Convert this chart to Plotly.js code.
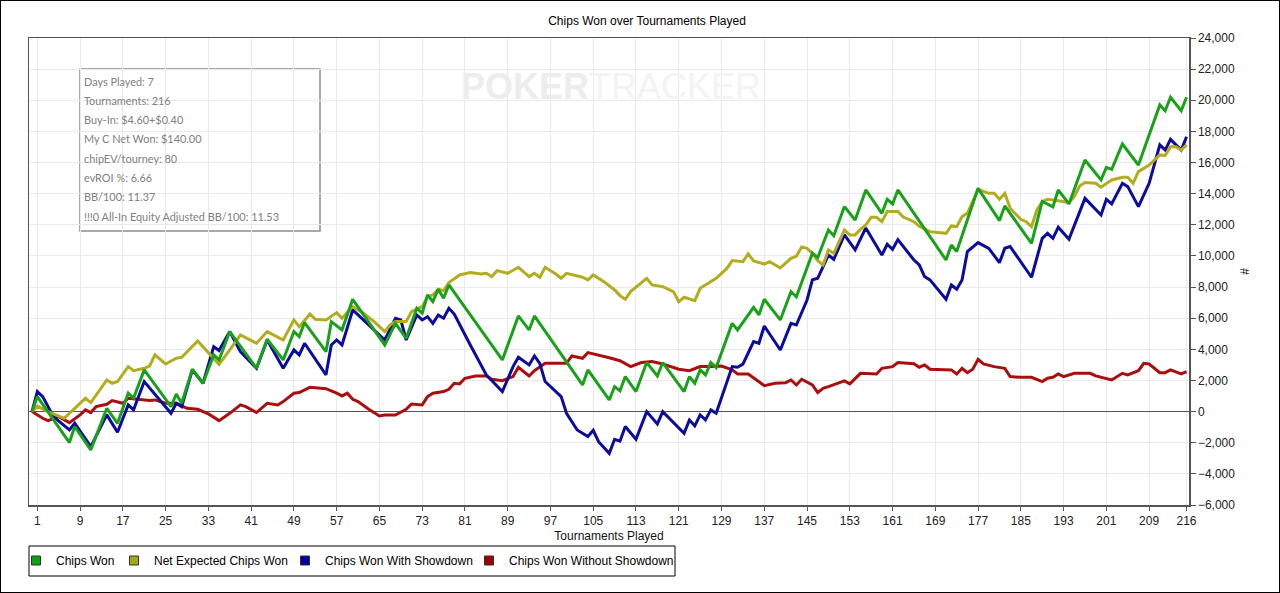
<!DOCTYPE html>
<html>
<head>
<meta charset="utf-8">
<script src="https://cdn.plot.ly/plotly-3.0.1.min.js"></script>
<style>
  html, body { margin: 0; padding: 0; background: #fff; }
  #wrap { position: relative; width: 1280px; height: 593px; }
  #chart { width: 1280px; height: 593px; }
  #frame { position: absolute; left: 0; top: 0; width: 1280px; height: 593px; box-sizing: border-box; border: 1px solid #000; pointer-events: none; }
</style>
</head>
<body>
<div id="wrap"><div id="chart"></div><div id="frame"></div></div>
<script>
// ---- Data (tournament number, cumulative chips) ----
const xTickVals = [1,9,17,25,33,41,49,57,65,73,81,89,97,105,113,121,129,137,145,153,161,169,177,185,193,201,209,216];

const chipsWonT = [0,1,7,8,11,14,16,18,19,21,26,27,28,30,32,34,35,37,42,44,47,49,50,51,55,56,58,60,66,68,70,72,73,74,75,76,77,78,88,91,93,94,103,104,108,109,110,111,113,115,117,118,122,123,124,125,126,127,128,131,132,135,136,137,140,142,143,146,147,149,150,152,154,156,159,160,161,162,171,172,173,177,181,182,187,189,191,192,194,197,200,201,202,204,207,211,212,213,215,216];
const chipsWonV = [0,960,-1990,-960,-2460,210,-750,1180,860,2680,320,1130,535,2720,1820,3640,3320,5140,2780,4650,3320,5140,4820,5720,3850,5780,5245,7215,4280,5670,4710,6640,6320,7490,7065,7860,7280,8135,3320,6145,5245,6145,1710,2680,750,1600,1330,2250,1285,3150,2290,3150,1285,2250,1820,2680,2355,3150,2825,5670,5245,6700,6210,7215,5890,7710,7380,10170,9900,11670,11300,13170,12310,14240,12740,13640,13340,14240,9740,10700,10280,14345,12270,13210,10810,13500,13150,14240,13340,16165,14880,15690,15565,17190,15840,19700,19330,20190,19330,20190];

const netExpT = [0,1,3,6,8,10,11,14,15,16,18,19,21,22,23,25,27,28,31,32,35,37,39,42,44,47,49,50,52,53,55,57,58,60,62,64,66,67,68,70,71,73,74,75,76,77,78,80,82,84,85,86,87,89,91,93,94,95,96,98,99,100,103,104,105,107,109,110,111,112,115,116,118,120,121,122,124,125,127,128,130,131,133,134,135,137,138,140,142,143,144,145,146,147,148,149,150,152,153,154,155,156,157,158,159,160,162,163,165,166,168,171,172,173,174,175,177,179,180,181,182,183,185,186,187,188,189,190,192,194,195,196,197,199,200,202,204,205,206,207,209,210,211,212,213,214,215,216];
const netExpV = [0,350,0,-430,210,860,580,2030,1820,1930,2890,2630,2780,2930,3640,3060,3430,3490,4540,4170,3040,3960,4920,4390,5140,4600,5890,5460,6270,5930,5890,6360,5995,6745,6315,5780,5140,5565,5780,5780,6420,6745,7385,7490,7860,7770,8285,8780,8930,8840,8885,8670,9055,8885,9270,8670,8885,8630,9270,8840,8565,8885,8630,8460,8780,8350,7815,7450,7215,7710,8565,8135,8030,7710,7065,7345,7130,7920,8350,8565,9200,9700,9635,10130,9680,9480,9635,9230,9850,9980,10580,10490,10170,9700,9420,10385,10170,11670,11350,11350,11700,11990,12480,12480,12200,12850,12850,12500,12200,11900,11560,11450,11925,11880,12525,12740,14280,14020,14020,13640,14020,13060,12350,12200,11880,12950,13490,13640,13550,13420,13810,14490,14710,14665,14410,14880,15050,15050,14665,15415,15840,16165,16490,16450,17020,17020,16800,17130];

const showdownT = [0,1,2,4,7,8,11,14,16,18,19,21,26,27,28,30,32,34,35,37,39,42,44,47,49,50,51,55,56,57,58,60,61,66,68,69,70,72,73,74,75,76,77,78,79,81,82,85,88,90,91,93,94,95,96,99,100,102,104,105,106,108,109,110,111,113,115,117,118,122,123,124,125,126,127,128,131,132,133,135,136,137,140,142,143,145,146,147,148,149,150,152,154,156,159,160,161,162,165,166,167,168,171,172,173,174,175,177,179,181,182,183,187,189,190,191,192,194,197,200,201,202,204,205,207,209,211,212,213,215,216];
const showdownV = [0,1280,960,-320,-1180,-750,-2250,-210,-1330,430,110,1930,-110,535,320,2680,1820,4170,3920,5140,3850,2780,4600,2780,3960,3640,4390,2360,4280,4600,4280,6530,6210,4600,6000,5890,4600,6210,5890,6100,5670,6210,6000,6640,6270,4920,4280,2355,1285,2890,3490,3000,3575,3100,1930,960,-110,-1180,-1600,-1200,-1930,-2680,-1780,-1900,-960,-1780,0,-790,0,-1390,-535,-920,-215,-535,110,-110,2890,2850,3050,4500,4390,5500,3960,5670,5565,7170,8460,8565,9310,10060,9785,11350,10385,11800,10060,10750,10430,11050,9740,9420,8670,8460,7215,8135,7860,8460,10280,10855,10490,9570,10490,10600,8630,11130,11450,11130,11840,11070,13700,12630,13640,13340,14665,14450,13170,14665,17130,16800,17490,16800,17660];

const noShowdownT = [0,2,3,5,7,9,10,11,12,14,15,17,18,20,22,23,25,27,29,31,33,35,37,39,40,42,44,46,47,49,50,52,55,57,58,59,60,61,63,65,66,68,70,71,73,74,75,77,78,79,80,81,83,85,86,88,90,91,93,94,96,98,100,101,103,104,106,108,110,112,114,116,118,121,123,125,127,129,131,132,134,136,137,139,141,142,143,144,146,147,148,149,151,152,153,155,158,159,161,162,165,166,167,168,172,173,174,175,176,177,178,180,182,183,185,187,189,190,191,192,193,195,198,199,202,204,205,207,208,209,211,212,213,215,216];
const noShowdownV = [0,-430,-580,-320,-710,-210,110,-60,320,470,710,535,860,790,710,750,535,535,210,150,-150,-580,-110,430,320,-60,535,430,640,1180,1220,1560,1470,1180,1005,1180,790,640,150,-280,-215,-215,150,490,430,960,1180,1285,1435,1820,1780,2140,2290,2290,2075,1990,2250,2850,2290,2630,3100,3100,3100,3575,3425,3790,3640,3460,3270,2890,3150,3210,3060,2720,2630,2890,2890,2930,2680,2420,2420,1930,1670,1820,1860,2030,1710,2075,1710,1220,1500,1605,1820,1970,1780,2460,2420,2780,2890,3150,3080,2850,3000,2720,2680,2420,2780,2500,2720,3360,3060,2890,2780,2250,2200,2200,1930,2140,2200,2420,2250,2460,2460,2290,2030,2460,2355,2630,3100,3060,2500,2500,2680,2420,2570];

const seriesNames = ['Chips Won','Net Expected Chips Won','Chips Won With Showdown','Chips Won Without Showdown'];
const lineColors = ['#1aa01a','#b3ac1e','#0b0b9e','#aa0e0e'];
const legendColors = ['#11a011','#a6a61a','#0000a0','#a00000'];

const infoLines = ['Days Played: 7','Tournaments: 216','Buy-In: $4.60+$0.40','My C Net Won: $140.00','chipEV/tourney: 80','evROI %: 6.66','BB/100: 11.37','!!!0 All-In Equity Adjusted BB/100: 11.53'];

// ---- Geometry helpers (pixel -> paper) ----
const M = {l: 29, r: 91, t: 38, b: 88};
const W = 1280, H = 593;
const PW = W - M.l - M.r, PH = H - M.t - M.b;
const px = x => (x - M.l) / PW;
const py = y => (H - M.b - y) / PH;

const lineTrace = (t, v, i) => ({
  x: t, y: v, type: 'scatter', mode: 'lines', name: seriesNames[i],
  line: {color: lineColors[i], width: 3}, showlegend: false, hoverinfo: 'x+y'
});

const data = [
  lineTrace(noShowdownT, noShowdownV, 3),
  lineTrace(showdownT, showdownV, 2),
  lineTrace(netExpT, netExpV, 1),
  lineTrace(chipsWonT, chipsWonV, 0)
];
const legendIds = ['legend', 'legend2', 'legend3', 'legend4'];
seriesNames.forEach((n, i) => data.push({
  x: [null], y: [null], type: 'scatter', mode: 'markers', name: n, legend: legendIds[i],
  marker: {symbol: 'square', size: 9, color: legendColors[i], line: {color: '#333', width: 1}},
  showlegend: true
}));

const annotations = infoLines.map((s, i) => ({
  xref: 'paper', yref: 'paper', x: px(82), y: py(81 + i * 19.3),
  xanchor: 'left', yanchor: 'middle', showarrow: false, text: s,
  font: {family: 'Lato, Liberation Sans, sans-serif', size: 10.9, color: '#808080'}
}));
annotations.push({
  xref: 'paper', yref: 'paper', x: px(611), y: py(86), xanchor: 'center', yanchor: 'middle',
  showarrow: false,
  text: '<b><span style="color:#ededed">POKER</span></b><span style="color:#f3f3f3">TRACKER</span>',
  font: {family: 'Liberation Sans, Arial, sans-serif', size: 36, color: '#eeeeee'}
});

// legend box left edges (px): each symbol sits 20px right of it, text 40px right of it
const legendLeft = [16, 114, 285, 469];
const legendBase = {
  orientation: 'h', xanchor: 'left', y: py(546), yanchor: 'top',
  bgcolor: 'rgba(0,0,0,0)', borderwidth: 0, font: {size: 12, color: '#000'}, itemwidth: 30
};

const layout = {
  width: W, height: H,
  margin: {l: M.l, r: M.r, t: M.t, b: M.b, pad: 0},
  paper_bgcolor: '#ffffff', plot_bgcolor: '#ffffff',
  font: {family: 'Liberation Sans, Arial, sans-serif', size: 12, color: '#111'},
  title: {text: 'Chips Won over Tournaments Played', x: 0.5055, xanchor: 'center', y: 0.965, yanchor: 'middle',
          font: {size: 12, color: '#000'}},
  xaxis: {
    range: [-0.56, 216.46], tickmode: 'array', tickvals: xTickVals, ticktext: xTickVals.map(String),
    ticks: 'outside', ticklen: 4, tickcolor: '#555', showline: true, linecolor: '#555', linewidth: 1.5, mirror: true,
    showgrid: true, gridcolor: '#e9e9e9', zeroline: false, tickfont: {size: 12, color: '#222'},
    title: {text: 'Tournaments Played', font: {size: 12, color: '#111'}, standoff: 4}
  },
  yaxis: {
    side: 'right', range: [-6000, 24000], dtick: 2000, tick0: 0, tickformat: ',',
    ticks: 'outside', ticklen: 5, tickcolor: '#555', showline: true, linecolor: '#555', linewidth: 1.5, mirror: true,
    showgrid: true, gridcolor: '#e9e9e9', zeroline: true, zerolinecolor: '#555', zerolinewidth: 1.5,
    tickfont: {size: 12, color: '#222'},
    title: {text: '#', font: {size: 12, color: '#111'}, standoff: 6}
  },
  shapes: [
    {type: 'rect', xref: 'paper', yref: 'paper', x0: px(80), x1: px(320), y0: py(231), y1: py(69),
     line: {color: '#8c8c8c', width: 1.5}, fillcolor: '#ffffff', layer: 'between'},
    {type: 'rect', xref: 'paper', yref: 'paper', x0: px(29), x1: px(675), y0: py(576), y1: py(546),
     line: {color: '#000', width: 1}, fillcolor: 'rgba(0,0,0,0)', layer: 'above'}
  ],
  annotations: annotations,
  showlegend: true
};
legendIds.forEach((id, i) => { layout[id] = Object.assign({}, legendBase, {x: px(legendLeft[i])}); });

Plotly.newPlot('chart', data, layout, {displayModeBar: false, staticPlot: true});
</script>
</body>
</html>
